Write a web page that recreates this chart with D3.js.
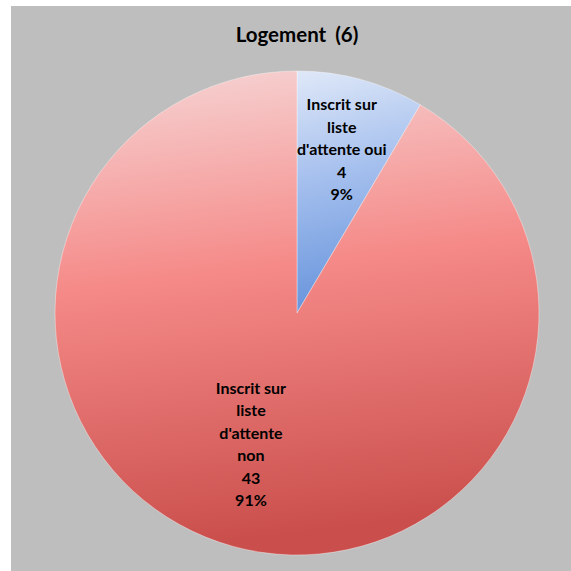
<!DOCTYPE html>
<html>
<head>
<meta charset="utf-8">
<script src="https://cdn.jsdelivr.net/npm/d3@7"></script>
<style>
html,body{margin:0;padding:0;background:#ffffff;}
svg{display:block;}
</style>
</head>
<body>
<svg id="chart" width="571" height="571"></svg>
<script>
const title = "Logement (6)";
const categories = ["Inscrit sur liste d'attente oui", "Inscrit sur liste d'attente non"];
const labelLines = [
  ["Inscrit sur", "liste", "d'attente oui"],
  ["Inscrit sur", "liste", "d'attente", "non"]
];
const values = [4, 43];
const percents = ["9%", "91%"];
const gradientStops = [
  [["0%", "#dfe8f8"], ["45%", "#a6c0ee"], ["100%", "#6794dc"]],
  [["0%", "#f6d6d6"], ["45%", "#f58a88"], ["100%", "#ca4f4c"]]
];
const labelRadiusFactor = [0.70, 0.575];
const labelAngleShift = [0, 0.07];

const svg = d3.select("#chart");
const W = 571, H = 571;
const cx = 297, cy = 313, R = 242;

svg.append("rect").attr("x", 11).attr("y", 6).attr("width", W - 11).attr("height", H - 6)
  .attr("fill", "#bebebe");

svg.append("text").attr("x", 297).attr("y", 42).attr("text-anchor", "middle")
  .attr("font-family", "Lato, 'Open Sans', sans-serif").attr("font-weight", "bold")
  .attr("font-size", 20.5).attr("word-spacing", 4).attr("fill", "#000").text(title);

const defs = svg.append("defs");
gradientStops.forEach((stops, i) => {
  const g = defs.append("linearGradient").attr("id", "grad" + i)
    .attr("x1", "0").attr("y1", "0").attr("x2", "0.12").attr("y2", "1");
  stops.forEach(s => g.append("stop").attr("offset", s[0]).attr("stop-color", s[1]));
});

const pie = d3.pie().sort(null).value(d => d)(values);
const arc = d3.arc().innerRadius(0).outerRadius(R);

const g = svg.append("g").attr("transform", `translate(${cx},${cy})`);
g.selectAll("path.slice").data(pie).enter().append("path")
  .attr("class", "slice")
  .attr("d", arc)
  .attr("fill", (d, i) => `url(#grad${i})`)
  .attr("stroke", "rgba(255,255,255,0.45)")
  .attr("stroke-width", 0.8);

const lineH = 22.5;
pie.forEach((d, i) => {
  const lr = R * labelRadiusFactor[i];
  const a = (d.startAngle + d.endAngle) / 2 + labelAngleShift[i];
  const c = [lr * Math.sin(a), -lr * Math.cos(a)];
  const lines = labelLines[i].concat([String(values[i]), percents[i]]);
  const t = g.append("text").attr("text-anchor", "middle")
    .attr("font-family", "Lato, 'Open Sans', sans-serif").attr("font-weight", "bold")
    .attr("font-size", 16).attr("fill", "#000");
  const startY = c[1] - (lines.length - 1) * lineH / 2;
  lines.forEach((ln, k) => {
    t.append("tspan").attr("x", c[0]).attr("y", startY + k * lineH)
      .attr("dy", "0.35em").text(ln);
  });
});
</script>
</body>
</html>
